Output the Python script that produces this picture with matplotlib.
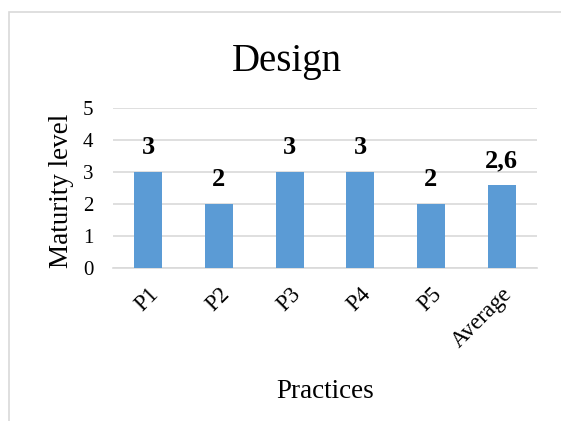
import matplotlib
matplotlib.use("Agg")
import matplotlib.pyplot as plt
from matplotlib.patches import Rectangle

categories = ["P1", "P2", "P3", "P4", "P5", "Average"]
values = [3, 2, 3, 3, 2, 2.6]
value_labels = ["3", "2", "3", "3", "2", "2,6"]
y_ticks = [0, 1, 2, 3, 4, 5]

plt.rcParams["font.family"] = ["Liberation Serif", "DejaVu Serif"]

W, H = 561, 421
fig = plt.figure(figsize=(W / 100, H / 100), dpi=100)
fig.patch.set_facecolor("white")

# chart-area frame (partially outside the canvas on right and bottom)
fig.patches.append(Rectangle((9 / W, -0.2), 1.2, 1 - 12 / H + 0.2,
                             transform=fig.transFigure, fill=False,
                             edgecolor="#D9D9D9", linewidth=1.2))

ax = fig.add_axes([113 / W, 1 - 268 / H, (537 - 113) / W, (268 - 108) / H])
x = range(len(categories))
bars = ax.bar(x, values, width=0.4, color="#5B9BD5", zorder=3)

ax.set_ylim(0, 5)
ax.set_xlim(-0.5, len(categories) - 0.5)
ax.set_yticks(y_ticks)
ax.set_yticklabels([str(t) for t in y_ticks], fontsize=15)
ax.set_xticks(list(x))
ax.set_xticklabels(categories, rotation=45, ha="right", rotation_mode="anchor",
                   fontsize=16.5)
ax.tick_params(axis="y", length=0, pad=14)
ax.tick_params(axis="x", length=0, pad=11)
ax.grid(axis="y", color="#D9D9D9", linewidth=1.2, zorder=0)
for s in ["top", "right", "left"]:
    ax.spines[s].set_visible(False)
ax.spines["bottom"].set_color("#D9D9D9")
ax.spines["bottom"].set_linewidth(1.2)

for b, v, lab in zip(bars, values, value_labels):
    ax.annotate(lab, (b.get_x() + b.get_width() / 2, v), xytext=(0, 9),
                textcoords="offset points", ha="center", va="bottom",
                fontsize=19, fontweight="bold")

ax.set_ylabel("Maturity level", fontsize=19.5)
ax.yaxis.label.set_va("center")
ax.yaxis.set_label_coords(62 / W, 1 - 191 / H, transform=fig.transFigure)
ax.set_xlabel("Practices", fontsize=19.5)
ax.xaxis.label.set_va("center")
ax.xaxis.set_label_coords(325 / W, 1 - 392 / H, transform=fig.transFigure)

fig.text(287 / W, 1 - 61 / H, "Design", ha="center", va="center", fontsize=28)

fig.savefig("out.png", dpi=100)
